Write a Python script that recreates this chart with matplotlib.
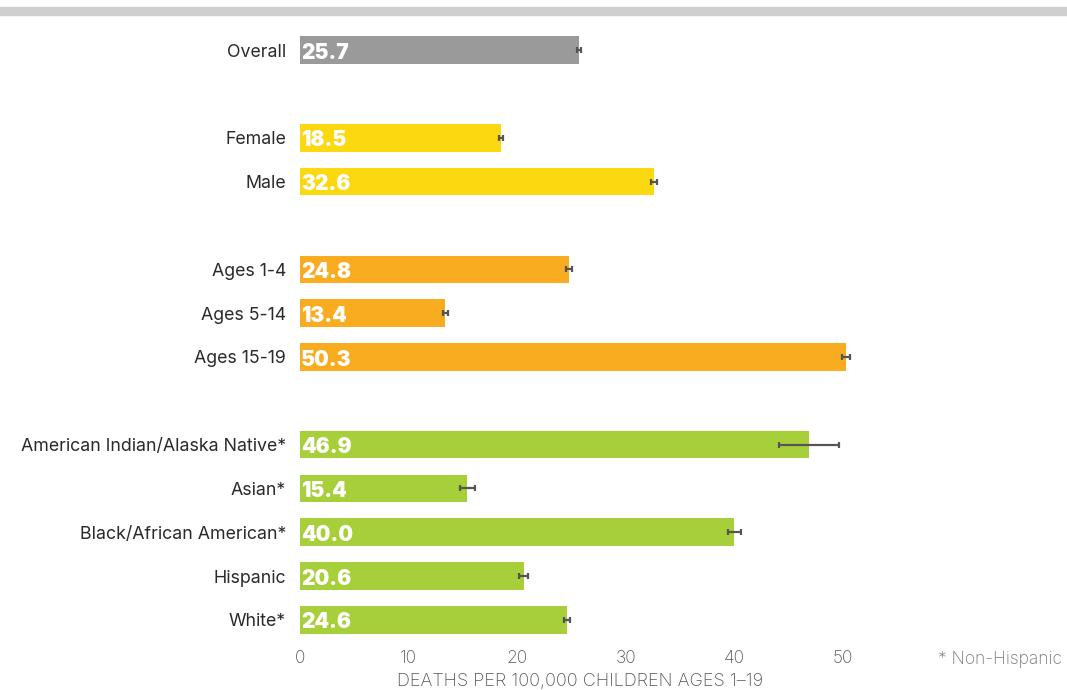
import matplotlib
matplotlib.use('Agg')
import matplotlib.pyplot as plt

plt.rcParams['font.family'] = ['Inter', 'DejaVu Sans']

# data
categories = ['Overall', 'Female', 'Male', 'Ages 1-4', 'Ages 5-14', 'Ages 15-19',
              'American Indian/Alaska Native*', 'Asian*', 'Black/African American*',
              'Hispanic', 'White*']
rates = [25.7, 18.5, 32.6, 24.8, 13.4, 50.3, 46.9, 15.4, 40.0, 20.6, 24.6]
errors = [0.2, 0.2, 0.3, 0.3, 0.2, 0.4, 2.8, 0.7, 0.6, 0.4, 0.3]
groups = ['all', 'sex', 'sex', 'age', 'age', 'age', 'race', 'race', 'race', 'race', 'race']
rows = [0, 2, 3, 5, 6, 7, 9, 10, 11, 12, 13]
xticks = [0, 10, 20, 30, 40, 50]

groupColors = {'all': '#9a9a9a', 'sex': '#fbd80f', 'age': '#f9ac1f', 'race': '#a7cf3a'}

fig = plt.figure(figsize=(10.67, 6.9), dpi=100)
ax = fig.add_axes([300 / 1067, 50 / 690, 700 / 1067, 620 / 690])

# grey strip along the top
fig.patches.append(plt.Rectangle((0, 1 - 15 / 690), 1, 8 / 690, transform=fig.transFigure,
                                 color='#cfcfd0', zorder=0))

cols = [groupColors[gg] for gg in groups]
ax.barh(rows, rates, height=0.63, color=cols, zorder=2)
ax.errorbar(rates, rows, xerr=errors, fmt='none', ecolor='#555555', elinewidth=1.6,
            capsize=2, capthick=1.6, zorder=3)

for rr, vv in zip(rows, rates):
    ax.text(0.1, rr + 0.06, '%0.1f' % vv, color='white', fontsize=15, fontweight='black',
            va='center', ha='left', zorder=4)

ax.set_yticks(rows)
ax.set_yticklabels(categories, fontsize=12.8, color='#2a2a2a', va='center_baseline')
ax.set_xticks(xticks)
ax.set_xticklabels([str(xx) for xx in xticks], fontsize=12.5, color='#555555',
                   fontweight='light')
ax.tick_params(axis='both', length=0)
ax.tick_params(axis='y', pad=10)
ax.tick_params(axis='x', pad=7)
ax.set_xlim(0, 64.5)
ax.set_ylim(13.46, -0.69)
for sp in ax.spines.values():
    sp.set_visible(False)

ax.set_xlabel('DEATHS PER 100,000 CHILDREN AGES 1–19', fontsize=13, color='#555555',
              fontweight='light')
ax.xaxis.set_label_coords((580 - 300) / 700, -0.053)

fig.text(1062 / 1067, 1 - 660 / 690, '* Non-Hispanic', ha='right', va='center',
         fontsize=12.5, color='#777777', fontweight='light')

fig.savefig('out.png', dpi=100)
